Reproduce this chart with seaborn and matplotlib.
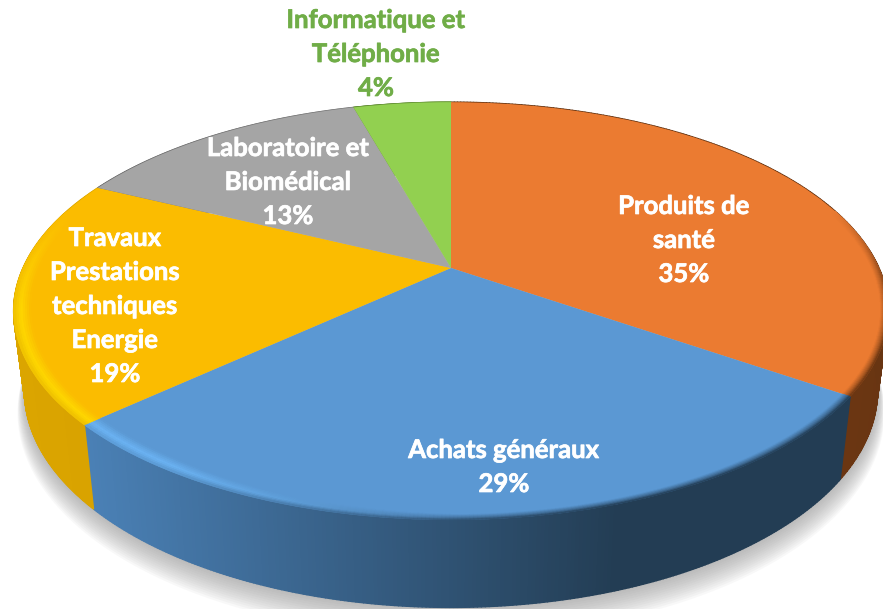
import matplotlib
matplotlib.use("Agg")
import matplotlib.patheffects as pe
import matplotlib.pyplot as plt
import numpy as np
import seaborn as sns
from matplotlib.collections import PolyCollection
from matplotlib.transforms import Transform

categories = [
    "Produits de\nsanté",
    "Achats généraux",
    "Travaux\nPrestations\ntechniques\nEnergie",
    "Laboratoire et\nBiomédical",
    "Informatique et\nTéléphonie",
]
shares = [34.6, 28.6, 19.0, 13.4, 4.4]

face_colors = ["#EB7B31", "#5B98D3", "#FBBC00", "#A5A5A5", "#92D050"]
wall_colors = [
    ("#6B3612", "#5E3010"),
    ("#4A80B5", "#233D54"),
    ("#E0AA00", "#D9A300"),
    ("#7C7C7C", "#6E6E6E"),
    ("#6E9C3C", "#628C35"),
]
rim_colors = ["#8A4A1C", "#6CB4F4", "#FFD800", "#B8B8B8", "#A5DC60"]
label_pos = [(684, 240), (504, 467), (115, 306), (288, 182), (376, 54)]
label_colors = ["white", "white", "white", "white", "#70AD47"]

CX, CY = 451, 268
SX, SY = 428, 200
K = 0.206


def project(x, y, drop=0.0):
    # flat circle seen in perspective, drop is the way down the side wall
    w = 1 + K * y
    shrink = 1 - 0.025 * drop
    return CX + SX * x / w * shrink, CY - SY * y / w + drop * 78 / np.sqrt(w)


class Tilt(Transform):
    input_dims = 2
    output_dims = 2
    is_separable = False
    has_inverse = False

    def transform_non_affine(self, values):
        px, py = project(values[:, 0], values[:, 1])
        return np.column_stack([px, py])


def ring(theta, radius=1.0, drop=0.0):
    return project(radius * np.cos(theta), radius * np.sin(theta), drop)


sns.set_theme(style="white")
plt.rcParams["font.family"] = ["Lato", "DejaVu Sans"]

fig = plt.figure(figsize=(8.83, 6.09), dpi=100)
ax = fig.add_axes([0, 0, 1, 1])

wedges, _ = ax.pie(
    shares,
    colors=sns.color_palette(face_colors),
    startangle=90,
    counterclock=False,
    wedgeprops={"linewidth": 0},
)
ax.set_aspect("auto")
ax.set_xlim(0, 883)
ax.set_ylim(609, 0)
ax.axis("off")

tilt = Tilt() + ax.transData
for wedge in wedges:
    wedge.set_transform(tilt)
    wedge.set_zorder(5)

# soft shadow under the disc
angles = np.radians(np.linspace(0, 360, 361))
for step in np.linspace(0, 1, 14):
    px, py = ring(angles, 1.0 + 0.022 * step, 1.0 + 0.25 * step)
    ax.fill(px, py, color="#808080", alpha=0.05, lw=0, zorder=1)

# side wall and bevel, slice by slice
for wedge, wall, rim, face in zip(wedges, wall_colors, rim_colors, face_colors):
    cmap = sns.blend_palette(wall, 64, as_cmap=True)
    theta = np.radians(np.linspace(wedge.theta1, wedge.theta2, 240))
    tx, ty = ring(theta)
    bx, by = ring(theta, 1.0, 1.0)
    is_blue = wall == wall_colors[1]
    quads, fills = [], []
    for i in range(len(theta) - 1):
        quads.append([(tx[i], ty[i]), (tx[i + 1], ty[i + 1]), (bx[i + 1], by[i + 1]), (bx[i], by[i])])
        if is_blue:
            fills.append(cmap(np.clip((tx[i] - 88) / 530, 0, 1)))
        else:
            fills.append(cmap(i / len(theta)))
    ax.add_collection(PolyCollection(quads, facecolors=fills, edgecolors=fills, linewidths=1.0, zorder=3))

    # bevel: face -> light rim -> wall colour, towards the edge
    rim_rgb = np.array(matplotlib.colors.to_rgb(rim))
    face_rgb = np.array(matplotlib.colors.to_rgb(face))
    lit = np.clip((460 - tx) / 300, 0, 1)
    widths = 0.45 + 0.55 * lit
    radii = np.linspace(0.962, 1.0, 9)
    band, band_fills = [], []
    for j in range(len(radii) - 1):
        part = (j + 0.5) / (len(radii) - 1)
        ox, oy = ring(theta, 1 - (1 - radii[j]) * widths)
        ix, iy = ring(theta, 1 - (1 - radii[j + 1]) * widths)
        for i in range(len(theta) - 1):
            fade = np.clip((0.3 - np.sin(theta[i])) / 0.5, 0, 1)
            if fade <= 0:
                continue
            end = np.array(cmap(np.clip((tx[i] - 88) / 530, 0, 1) if is_blue else i / len(theta))[:3])
            peak = lit[i] * rim_rgb + (1 - lit[i]) * (0.5 * face_rgb + 0.5 * end)
            if part < 0.6:
                col = face_rgb + (peak - face_rgb) * part / 0.6
            else:
                stop = lit[i] * (0.55 * peak + 0.45 * end) + (1 - lit[i]) * end
                col = peak + (stop - peak) * (part - 0.6) / 0.4
            col = face_rgb + (col - face_rgb) * fade
            band.append([(ox[i], oy[i]), (ox[i + 1], oy[i + 1]), (ix[i + 1], iy[i + 1]), (ix[i], iy[i])])
            band_fills.append(col)
    if band:
        ax.add_collection(PolyCollection(band, facecolors=band_fills, edgecolors=band_fills, linewidths=0.4, zorder=6))

for name, share, pos, color in zip(categories, shares, label_pos, label_colors):
    ax.text(
        pos[0], pos[1], f"{name}\n{share:.0f}%",
        ha="center", va="center", color=color,
        fontsize=18.5, fontweight="bold", linespacing=1.5, zorder=8,
        path_effects=[pe.withStroke(linewidth=0.5, foreground=color)],
    )

fig.savefig("out.png", dpi=100, facecolor="white")
